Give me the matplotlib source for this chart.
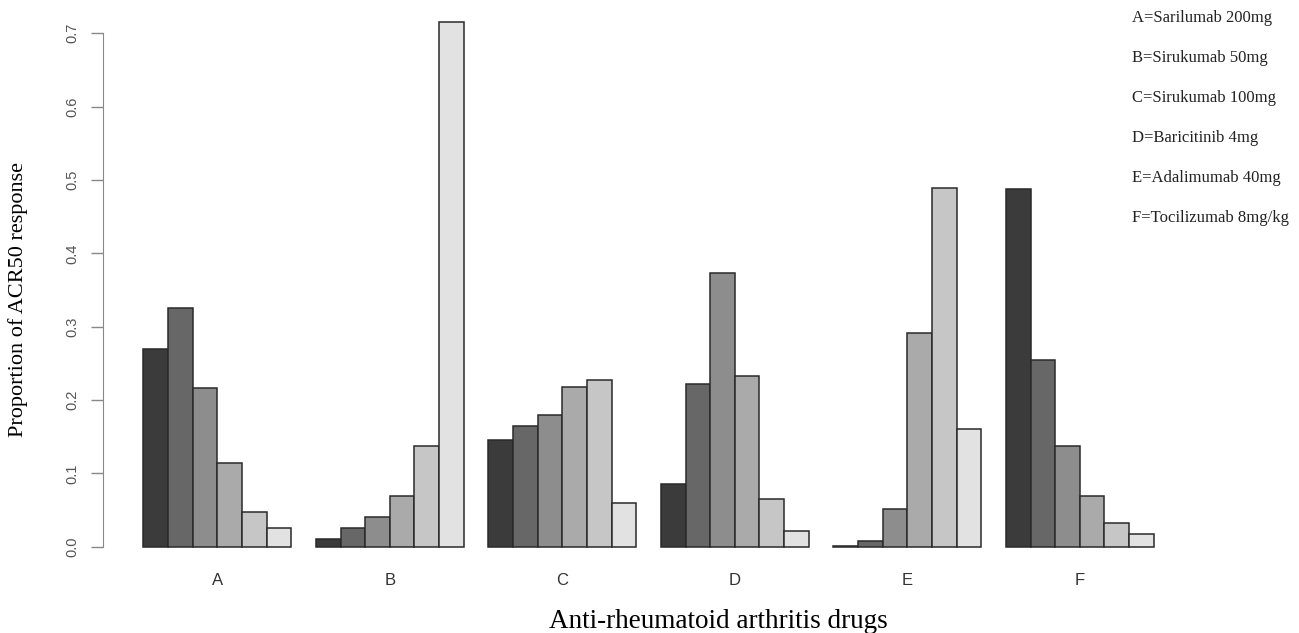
import numpy as np
import matplotlib.pyplot as plt

drugs = ["A", "B", "C", "D", "E", "F"]
legend_lines = [
    "A=Sarilumab 200mg",
    "B=Sirukumab 50mg",
    "C=Sirukumab 100mg",
    "D=Baricitinib 4mg",
    "E=Adalimumab 40mg",
    "F=Tocilizumab 8mg/kg",
]
# proportion of ACR50 response, one row per drug, six ranks each
props = np.array([
    [0.270, 0.326, 0.216, 0.114, 0.048, 0.025],
    [0.010, 0.025, 0.041, 0.069, 0.138, 0.715],
    [0.146, 0.165, 0.179, 0.218, 0.228, 0.060],
    [0.086, 0.222, 0.373, 0.233, 0.065, 0.022],
    [0.001, 0.008, 0.051, 0.292, 0.489, 0.160],
    [0.488, 0.255, 0.138, 0.069, 0.033, 0.018],
])
greys = ["#3b3b3b", "#676767", "#8d8d8d", "#aaaaaa", "#c6c6c6", "#e2e2e2"]

fig = plt.figure(figsize=(12.99, 6.33), dpi=100)
ax = fig.add_axes([0.0793, 0.103, 0.840, 0.895])

n = props.shape[1]
for i, row in enumerate(props):
    left = 1 + i * (n + 1)
    xs = left + np.arange(n) + 0.5
    ax.bar(xs, row, width=1.0, color=greys, edgecolor="#2a2a2a", linewidth=1.1)

centers = [1 + i * (n + 1) + n / 2 for i in range(len(drugs))]
ax.set_xticks(centers)
ax.set_xticklabels(drugs, fontsize=12, family="Liberation Sans", color="#333333")
ax.tick_params(axis="x", length=0, pad=4)

ax.set_xlim(1 - 0.04 * 41, 42 + 0.04 * 41)
ymax = props.max()
ax.set_ylim(-0.04 * ymax, ymax * 1.04)

ax.set_yticks(np.arange(0, 0.71, 0.1))
ax.set_yticklabels(["%.1f" % v for v in np.arange(0, 0.71, 0.1)],
                   rotation=90, va="center", fontsize=10.5,
                   family="Liberation Sans", color="#555555")
ax.tick_params(axis="y", length=9, width=1, color="#888888", pad=8)

for s in ["top", "right", "bottom"]:
    ax.spines[s].set_visible(False)
ax.spines["left"].set_bounds(0, 0.7)
ax.spines["left"].set_color("#888888")

ax.set_xlabel("Anti-rheumatoid arthritis drugs", family="Liberation Serif",
              fontsize=19.5, va="center")
ax.xaxis.set_label_coords(0.5637, -0.095)
ax.set_ylabel("Proportion of ACR50 response", family="Liberation Serif",
              fontsize=16, va="center")
ax.yaxis.set_label_coords(-0.078, 0.473)

for k, txt in enumerate(legend_lines):
    fig.text(1132 / 1299, 1 - (18 + 40 * k) / 633, txt, family="Liberation Serif",
             fontsize=12, va="center", ha="left", color="#222222")

fig.savefig("out.png", dpi=100)
